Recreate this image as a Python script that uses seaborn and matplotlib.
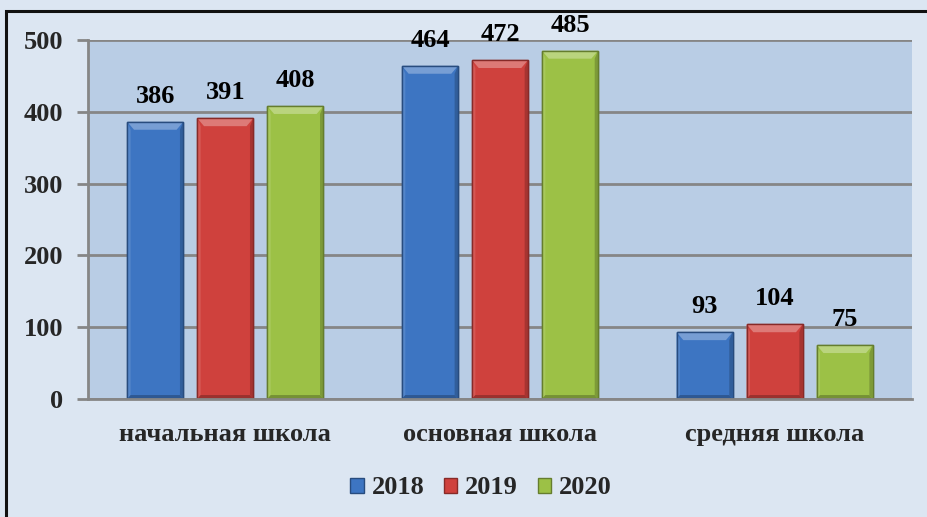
import matplotlib
matplotlib.use("Agg")
import matplotlib.pyplot as plt
import matplotlib.patches as mpatches
import seaborn as sns
import pandas as pd
import numpy as np
from matplotlib.colors import to_rgb

levels = ["начальная школа", "основная школа", "средняя школа"]
years = ["2018", "2019", "2020"]
values_2018 = [386, 464, 93]
values_2019 = [391, 472, 104]
values_2020 = [408, 485, 75]
y_ticks = [0, 100, 200, 300, 400, 500]

colors = ["#3d75c2", "#cf413d", "#9cc146"]

rows = []
for yr, vals in zip(years, [values_2018, values_2019, values_2020]):
    for lv, v in zip(levels, vals):
        rows.append({"level": lv, "year": yr, "value": v})
df = pd.DataFrame(rows)

sns.set_theme(style="white")
plt.rcParams["font.family"] = ["Liberation Serif", "DejaVu Serif"]
plt.rcParams["font.weight"] = "bold"

W, H = 928, 517
fig = plt.figure(figsize=(W / 100, H / 100), dpi=100)
fig.patch.set_facecolor("#dce6f2")

ax = fig.add_axes([88 / W, 1 - 399 / H, 824 / W, 359 / H])
ax.set_facecolor("#b9cde5")

sns.barplot(data=df, x="level", y="value", hue="year", order=levels,
            hue_order=years, palette=colors, width=0.765, gap=0.2,
            saturation=1, ax=ax, errorbar=None)

def shade(c, f):
    r = np.array(to_rgb(c))
    if f >= 0:
        return tuple(r + (1 - r) * f)
    return tuple(r * (1 + f))

# bevel styling on each bar, derived from the patch geometry
for cont, col in zip(ax.containers, colors):
    for p in cont.patches:
        x0, y0 = p.get_x(), p.get_y()
        w, h = p.get_width(), p.get_height()
        p.set_edgecolor(shade(col, -0.35))
        p.set_linewidth(1.0)
        bx = w * 0.12
        by = min(11, h * 0.3)
        z = p.get_zorder()
        polys = [
            ([(x0, y0 + h), (x0 + w, y0 + h), (x0 + w - bx, y0 + h - by),
              (x0 + bx, y0 + h - by)], shade(col, 0.3)),
            ([(x0, y0), (x0, y0 + h), (x0 + bx * 0.5, y0 + h - by),
              (x0 + bx * 0.5, y0 + by * 0.5)], shade(col, 0.12)),
            ([(x0 + w, y0), (x0 + w, y0 + h), (x0 + w - bx * 0.5, y0 + h - by),
              (x0 + w - bx * 0.5, y0 + by * 0.5)], shade(col, -0.2)),
            ([(x0, y0), (x0 + w, y0), (x0 + w - bx * 0.5, y0 + by * 0.5),
              (x0 + bx * 0.5, y0 + by * 0.5)], shade(col, -0.25)),
        ]
        for pts, fc in polys:
            ax.add_patch(mpatches.Polygon(pts, closed=True, facecolor=fc,
                                          edgecolor="none", zorder=z + 0.1))
        ax.add_patch(mpatches.Rectangle((x0, y0), w, h, fill=False,
                                        edgecolor=shade(col, -0.35), linewidth=1.0,
                                        zorder=z + 0.2))
    ax.bar_label(cont, fmt="%d", padding=10, fontsize=19, fontweight="bold",
                 color="black")

ax.set_ylim(0, 500)
ax.set_yticks(y_ticks)
ax.set_yticklabels([str(t) for t in y_ticks])
ax.yaxis.grid(True, color="#868686", linewidth=2)
ax.set_axisbelow(True)
for s in ["top", "right"]:
    ax.spines[s].set_visible(False)
for s in ["left", "bottom"]:
    ax.spines[s].set_color("#868686")
    ax.spines[s].set_linewidth(2)
ax.tick_params(axis="y", which="major", length=8, width=2, color="#868686",
               pad=10, labelsize=19, left=True, direction="out")
ax.tick_params(axis="x", length=0, pad=17, labelsize=19)
for lab in ax.get_xticklabels() + ax.get_yticklabels():
    lab.set_fontweight("bold")
ax.set_xlabel("")
ax.set_ylabel("")
ax.set_xlim(-0.5, 2.5)

handles, labels = ax.get_legend_handles_labels()
if ax.get_legend() is not None:
    ax.get_legend().remove()
leg = fig.legend(handles, labels, loc="center", bbox_to_anchor=(481 / W, 1 - 488 / H),
                 ncol=3, frameon=False, handlelength=0.5, handleheight=0.5,
                 handletextpad=0.3, columnspacing=0.75,
                 prop={"size": 19, "weight": "bold"})
for hnd, col in zip(leg.legend_handles, colors):
    hnd.set_edgecolor(shade(col, -0.35))
    hnd.set_linewidth(1)

# outer border (only top and left visible in the reference)
fig.add_artist(mpatches.Rectangle((6.5 / W, -0.1), 1.2, 1 - 10.5 / H + 0.1,
                                  transform=fig.transFigure, fill=False,
                                  edgecolor="#111111", linewidth=2.2))

fig.savefig("out.png", dpi=100, facecolor=fig.get_facecolor())
